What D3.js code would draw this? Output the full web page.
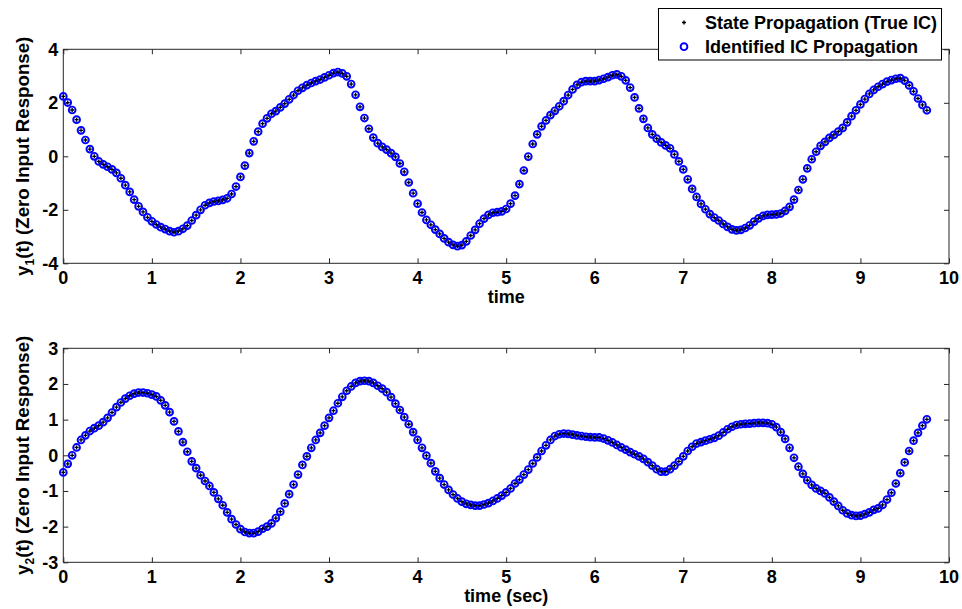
<!DOCTYPE html>
<html>
<head>
<meta charset="utf-8" />
<title>Zero input response</title>
<script type="text/javascript" src="https://d3js.org/d3.v7.min.js"></script>
<style type="text/css">
    body { margin: 0; background: #fff; }
    text { font-family: Arial, "Liberation Sans", sans-serif; font-weight: bold; font-size: 18px; fill: #000; }
</style>
</head>
<body>
<svg width="962" height="609"></svg>
<script>
    var dt = 0.05; // sample step (sec)

    // y1(t)
    var y1 = [2.24, 2.01, 1.73, 1.37, 0.97, 0.61, 0.27, 0.00, -0.19, -0.30, -0.39, -0.49, -0.62, -0.82, -1.08, -1.33, -1.62, -1.87, -2.08, -2.28,
        -2.43, -2.55, -2.65, -2.72, -2.80, -2.84, -2.80, -2.71, -2.59, -2.40, -2.20, -2.00, -1.83, -1.74, -1.69, -1.67, -1.63, -1.57, -1.41, -1.13,
        -0.77, -0.35, 0.12, 0.56, 0.92, 1.22, 1.42, 1.59, 1.69, 1.83, 1.97, 2.13, 2.29, 2.45, 2.56, 2.66, 2.74, 2.81, 2.87, 2.95,
        3.03, 3.11, 3.15, 3.10, 2.99, 2.70, 2.30, 1.85, 1.43, 1.03, 0.70, 0.49, 0.35, 0.25, 0.12, -0.02, -0.27, -0.58, -0.98, -1.38,
        -1.77, -2.10, -2.38, -2.56, -2.74, -2.90, -3.07, -3.21, -3.31, -3.36, -3.32, -3.18, -2.96, -2.75, -2.52, -2.33, -2.19, -2.11, -2.09, -2.06,
        -1.97, -1.77, -1.47, -1.04, -0.53, -0.01, 0.46, 0.82, 1.12, 1.34, 1.54, 1.70, 1.87, 2.06, 2.29, 2.50, 2.67, 2.77, 2.81, 2.81,
        2.81, 2.85, 2.90, 2.96, 3.03, 3.06, 2.99, 2.84, 2.57, 2.20, 1.79, 1.40, 1.06, 0.82, 0.66, 0.52, 0.41, 0.30, 0.07, -0.19,
        -0.49, -0.86, -1.22, -1.52, -1.78, -1.98, -2.16, -2.29, -2.40, -2.53, -2.64, -2.73, -2.77, -2.75, -2.68, -2.58, -2.44, -2.32, -2.23, -2.19,
        -2.18, -2.17, -2.14, -2.04, -1.89, -1.62, -1.26, -0.86, -0.45, -0.11, 0.17, 0.39, 0.54, 0.69, 0.80, 0.92, 1.06, 1.27, 1.50, 1.72,
        1.94, 2.14, 2.33, 2.48, 2.60, 2.70, 2.79, 2.85, 2.90, 2.92, 2.83, 2.65, 2.43, 2.16, 1.92, 1.72];

    // y2(t)
    var y2 = [-0.48, -0.24, 0.00, 0.22, 0.43, 0.56, 0.68, 0.76, 0.83, 0.93, 1.05, 1.20, 1.35, 1.48, 1.59, 1.67, 1.73, 1.76, 1.76, 1.74,
        1.70, 1.65, 1.54, 1.40, 1.21, 0.95, 0.67, 0.37, 0.10, -0.17, -0.36, -0.56, -0.72, -0.86, -1.04, -1.22, -1.40, -1.60, -1.79, -1.94,
        -2.07, -2.15, -2.18, -2.18, -2.14, -2.06, -2.00, -1.91, -1.76, -1.58, -1.35, -1.09, -0.82, -0.54, -0.27, -0.03, 0.21, 0.43, 0.63, 0.83,
        1.05, 1.25, 1.46, 1.64, 1.81, 1.93, 2.03, 2.08, 2.09, 2.08, 2.03, 1.95, 1.87, 1.77, 1.63, 1.45, 1.27, 1.07, 0.87, 0.65,
        0.43, 0.21, -0.01, -0.22, -0.45, -0.64, -0.82, -0.97, -1.10, -1.21, -1.30, -1.36, -1.39, -1.41, -1.41, -1.38, -1.34, -1.28, -1.21, -1.13,
        -1.04, -0.93, -0.79, -0.68, -0.54, -0.40, -0.23, -0.06, 0.12, 0.28, 0.43, 0.54, 0.59, 0.61, 0.60, 0.58, 0.56, 0.54, 0.52, 0.51,
        0.50, 0.50, 0.47, 0.42, 0.36, 0.29, 0.22, 0.16, 0.09, 0.03, -0.03, -0.10, -0.19, -0.29, -0.39, -0.46, -0.46, -0.39, -0.29, -0.17,
        -0.03, 0.12, 0.24, 0.33, 0.37, 0.41, 0.45, 0.49, 0.55, 0.64, 0.73, 0.80, 0.85, 0.87, 0.88, 0.89, 0.90, 0.91, 0.91, 0.90,
        0.87, 0.79, 0.65, 0.46, 0.21, -0.07, -0.32, -0.52, -0.70, -0.83, -0.93, -1.00, -1.07, -1.18, -1.30, -1.42, -1.54, -1.63, -1.68, -1.70,
        -1.69, -1.65, -1.60, -1.53, -1.49, -1.39, -1.24, -1.05, -0.79, -0.50, -0.20, 0.12, 0.41, 0.63, 0.83, 1.01];

    var xTicks = [0, 1, 2, 3, 4, 5, 6, 7, 8, 9, 10];
    var y1Ticks = [-4, -2, 0, 2, 4];
    var y2Ticks = [-3, -2, -1, 0, 1, 2, 3];
    var legendNames = ["State Propagation (True IC)", "Identified IC Propagation"];

    var svg = d3.select("svg");
    var axisColor = "#262626";

    var x = d3.scaleLinear().domain([0, 10]).range([63.3, 949]);

    // one subplot: values, y domain, y range, ticks, labels
    function panel(vals, dom, rng, ticks, sub, xlab) {
        var y = d3.scaleLinear().domain(dom).range(rng);
        var g = svg.append("g");
        var top = rng[1], bot = rng[0];
        var pts = vals.map((v, i) => [i * dt, v]);

        // ticks pointing in, on all four sides
        var ax = [
            [d3.axisBottom(x).tickValues(xTicks), "translate(0," + bot + ")"],
            [d3.axisTop(x).tickValues(xTicks), "translate(0," + top + ")"],
            [d3.axisLeft(y).tickValues(ticks), "translate(" + x(0) + ",0)"],
            [d3.axisRight(y).tickValues(ticks), "translate(" + x(10) + ",0)"]
        ];
        ax.forEach(a => {
            var s = g.append("g").attr("transform", a[1])
                .call(a[0].tickSizeInner(-5).tickSizeOuter(0).tickFormat(""));
            s.select(".domain").remove();
            s.selectAll("line").attr("stroke", axisColor);
        });

        g.append("rect")
            .attr("x", x(0)).attr("y", top)
            .attr("width", x(10) - x(0)).attr("height", bot - top)
            .attr("fill", "none").attr("stroke", axisColor);

        // tick labels
        g.selectAll(".xl").data(xTicks).enter().append("text")
            .attr("x", d => x(d)).attr("y", bot + 20.5)
            .attr("text-anchor", "middle").text(d => d);
        g.selectAll(".yl").data(ticks).enter().append("text")
            .attr("x", x(0) - 5).attr("y", d => y(d)).attr("dy", "0.35em")
            .attr("text-anchor", "end").text(d => d);

        g.append("text").attr("x", (x(0) + x(10)) / 2).attr("y", bot + 39.5)
            .attr("text-anchor", "middle").text(xlab);

        var yl = g.append("text")
            .attr("transform", "translate(29," + (top + bot) / 2 + ") rotate(-90)")
            .attr("text-anchor", "middle").style("font-size", "18.7px");
        yl.append("tspan").text("y");
        yl.append("tspan").attr("dy", 5).style("font-size", "12px").text(sub);
        yl.append("tspan").attr("dy", -5).text("(t) (Zero Input Response)");

        // identified IC: blue circles
        g.selectAll(".c").data(pts).enter().append("circle")
            .attr("cx", d => x(d[0])).attr("cy", d => y(d[1])).attr("r", 3.4)
            .attr("fill", "none").attr("stroke", "#0000ff").attr("stroke-width", 1.9);
        // true IC: black points
        g.selectAll(".p").data(pts).enter().append("path")
            .attr("d", d => "M" + (x(d[0]) - 2) + "," + y(d[1]) + "h4M" + x(d[0]) + "," + (y(d[1]) - 2) + "v4")
            .attr("stroke", "#000").attr("stroke-width", 1.3);
    }

    panel(y1, [-4, 4], [263.3, 49.3], y1Ticks, "1", "time");
    panel(y2, [-3, 3], [562.3, 348.3], y2Ticks, "2", "time (sec)");

    // legend
    var lg = svg.append("g");
    lg.append("rect").attr("x", 658.5).attr("y", 8.5).attr("width", 283).attr("height", 51.5)
        .attr("fill", "#fff").attr("stroke", "#000");
    lg.append("path").attr("d", "M682,22.5h4M684,20.5v4").attr("stroke", "#000").attr("stroke-width", 1.4);
    lg.append("circle").attr("cx", 684).attr("cy", 46.7).attr("r", 3.4)
        .attr("fill", "none").attr("stroke", "#0000ff").attr("stroke-width", 1.9);
    lg.selectAll(".lt").data(legendNames).enter().append("text")
        .attr("x", 705).attr("y", (d, i) => 29.3 + i * 23.6).text(d => d);
</script>
</body>
</html>
